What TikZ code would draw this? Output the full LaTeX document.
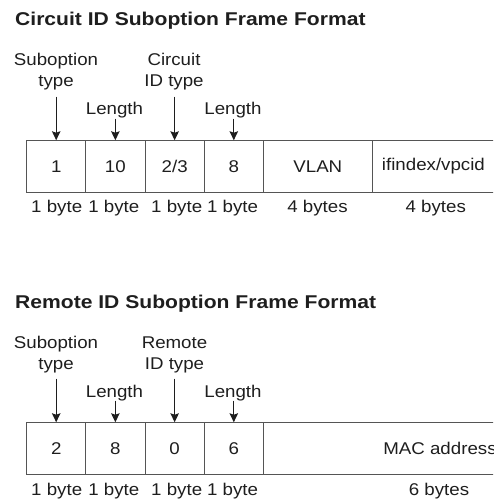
\documentclass[tikz,border=0pt]{standalone}
\usepackage{fontspec}
\setmainfont{Liberation Sans}[FakeStretch=1.1]
\newfontfamily\titlefont{Liberation Sans}[FakeStretch=1.14]
\usetikzlibrary{arrows.meta}
\definecolor{txt}{HTML}{1E1E1E}
\definecolor{linec}{HTML}{555555}
\begin{document}
\begin{tikzpicture}[x=1pt,y=-1pt,
  lbl/.style={font=\fontsize{17}{21}\selectfont, text=txt, inner sep=0pt, align=center, anchor=base},
  cell/.style={draw=linec, line width=0.9pt, minimum height=51.6pt, inner sep=0pt, font=\fontsize{17}{21}\selectfont, text=txt},
  arr/.style={-{Stealth[length=9pt,width=8.5pt,inset=1.5pt]}, line width=1pt, draw=txt},
  ttl/.style={font=\titlefont\bfseries\fontsize{18.5}{22}\selectfont, text=txt, anchor=base west, inner sep=0pt}]
\useasboundingbox (0,0) rectangle (493,502);
\clip (0,0) rectangle (493,502);

% ---------- Circuit ID ----------
\node[ttl] (t1) at (15,26) {Circuit ID Suboption Frame Format};
\node[cell, minimum width=59pt]   (a1) at (56.2,166.5)  {1};
\node[cell, minimum width=59.3pt] (a2) at (115.35,166.5) {10};
\node[cell, minimum width=59.3pt] (a3) at (174.65,166.5) {2/3};
\node[cell, minimum width=59pt]   (a4) at (233.8,166.5) {8};
\node[cell, minimum width=109pt]  (a5) at (317.8,166.5) {VLAN};
\node[cell, minimum width=122.2pt](a6) at (433.4,166.5) {ifindex/vpcid};

\node[lbl] (la1) at (56,87) {Suboption\\type};
\node[lbl] (la2) at (114.5,115) {Length};
\node[lbl] (la3) at (174,87) {Circuit\\ID type};
\node[lbl] (la4) at (233,115) {Length};

\draw[arr] ([yshift=-6pt]la1.south -| a1.north) -- (a1.north);
\draw[arr] ([yshift=0pt]la2.south -| a2.north) -- (a2.north);
\draw[arr] ([yshift=-6pt]la3.south -| a3.north) -- (a3.north);
\draw[arr] ([yshift=0pt]la4.south -| a4.north) -- (a4.north);

\node[lbl] (ba1) at (56.7,213) {1 byte};
\node[lbl] (ba2) at (113.8,213) {1 byte};
\node[lbl] (ba3) at (176.7,213) {1 byte};
\node[lbl] (ba4) at (232.5,213) {1 byte};
\node[lbl] (ba5) at (317.5,213) {4 bytes};
\node[lbl] (ba6) at (435.8,213) {4 bytes};

% ---------- Remote ID ----------
\begin{scope}[yshift=-282pt]
\node[ttl] (t2) at (15,26) {Remote ID Suboption Frame Format};
\node[cell, minimum width=59pt]   (b1) at (56.2,166.5)  {2};
\node[cell, minimum width=59.3pt] (b2) at (115.35,166.5) {8};
\node[cell, minimum width=59.3pt] (b3) at (174.65,166.5) {0};
\node[cell, minimum width=59pt]   (b4) at (233.8,166.5) {6};
\node[cell, minimum width=353.4pt](b5) at (440,166.5) {MAC address};

\node[lbl] (lb1) at (56,87) {Suboption\\type};
\node[lbl] (lb2) at (114.5,115) {Length};
\node[lbl] (lb3) at (174.5,87) {Remote\\ID type};
\node[lbl] (lb4) at (233,115) {Length};

\draw[arr] ([yshift=-6pt]lb1.south -| b1.north) -- (b1.north);
\draw[arr] ([yshift=0pt]lb2.south -| b2.north) -- (b2.north);
\draw[arr] ([yshift=-6pt]lb3.south -| b3.north) -- (b3.north);
\draw[arr] ([yshift=0pt]lb4.south -| b4.north) -- (b4.north);

\node[lbl] (bb1) at (56.7,213) {1 byte};
\node[lbl] (bb2) at (113.8,213) {1 byte};
\node[lbl] (bb3) at (176.7,213) {1 byte};
\node[lbl] (bb4) at (232.5,213) {1 byte};
\node[lbl] (bb5) at (439,213) {6 bytes};
\end{scope}
\end{tikzpicture}
\end{document}
